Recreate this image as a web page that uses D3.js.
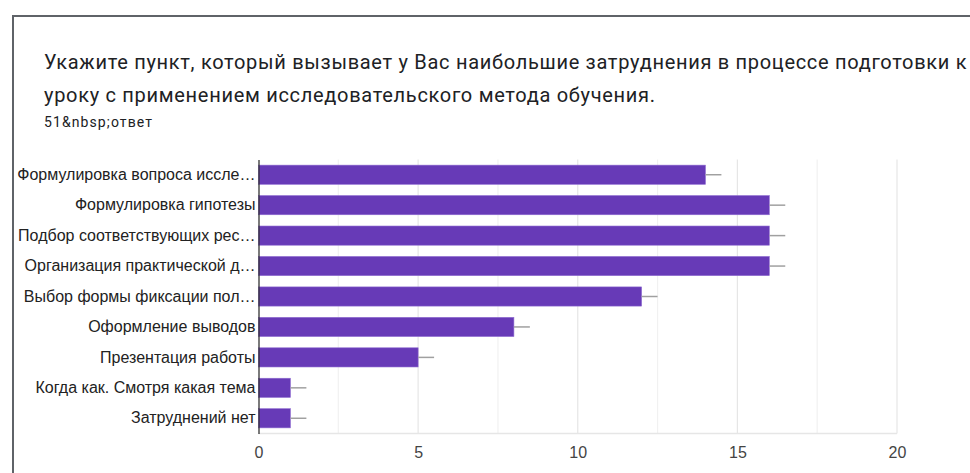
<!DOCTYPE html>
<html>
<head>
<meta charset="utf-8">
<script src="https://cdn.jsdelivr.net/npm/d3@7"></script>
<style>
  body { margin: 0; background: #fff; }
  svg { display: block; }
</style>
</head>
<body>
<svg width="970" height="473"></svg>
<script>
// chart data
var categories = [
	"Формулировка вопроса исследования",
	"Формулировка гипотезы",
	"Подбор соответствующих ресурсов",
	"Организация практической деятельности",
	"Выбор формы фиксации полученных результатов",
	"Оформление выводов",
	"Презентация работы",
	"Когда как. Смотря какая тема",
	"Затруднений нет"
];
var values = [14, 16, 16, 16, 12, 8, 5, 1, 1];
var errors = [0.5, 0.5, 0.5, 0.5, 0.5, 0.5, 0.5, 0.5, 0.5];
var xTicks = [0, 5, 10, 15, 20];
var titleLines = [
	"Укажите пункт, который вызывает у Вас наибольшие затруднения в процессе подготовки к",
	"уроку с применением исследовательского метода обучения."
];
var subtitle = "51&nbsp;ответ";

var svg = d3.select("svg");

// card frame (cut off at right and bottom)
svg.append("path")
	.attr("d", "M13,480 L13,16 L980,16")
	.attr("fill", "none")
	.attr("stroke", "#5f6368")
	.attr("stroke-width", 2);

svg.selectAll(".title").data(titleLines).enter().append("text")
	.attr("class", "title")
	.attr("x", 44)
	.attr("y", function(d, i) { return 69 + i * 32.5; })
	.attr("font-family", "Roboto, sans-serif")
	.attr("font-size", 20)
	.attr("letter-spacing", 0.7)
	.attr("fill", "#202124")
	.text(function(d) { return d; });

svg.append("text")
	.attr("x", 44)
	.attr("y", 127)
	.attr("font-family", "Roboto, sans-serif")
	.attr("font-size", 14)
	.attr("letter-spacing", 1.1)
	.attr("fill", "#202124")
	.text(subtitle);

var margin = {top: 159.5, left: 258.5},
	width = 897 - 258.5,
	height = 433.5 - 159.5,
	g = svg.append("g").attr("transform", "translate(" + margin.left + "," + margin.top + ")");

var x = d3.scaleLinear().domain([0, 20]).range([0, width]);
var y = d3.scaleBand().domain(categories).range([0, height]).paddingInner(0.37).paddingOuter(0.185);

// gridlines every 2.5
var grid = d3.range(2.5, 20.01, 2.5);
g.selectAll(".grid").data(grid).enter().append("line")
	.attr("x1", function(d) { return x(d); })
	.attr("x2", function(d) { return x(d); })
	.attr("y1", 0).attr("y2", height)
	.attr("stroke", function(d) { return d % 5 === 0 ? "#e6e6e6" : "#f1f1f1"; })
	.attr("stroke-width", 1.2);

g.append("line")
	.attr("x1", 0).attr("x2", width)
	.attr("y1", height).attr("y2", height)
	.attr("stroke", "#e6e6e6").attr("stroke-width", 1.5);

g.selectAll(".bar").data(values).enter().append("rect")
	.attr("class", "bar")
	.attr("x", 0)
	.attr("y", function(d, i) { return y(categories[i]); })
	.attr("width", function(d) { return x(d); })
	.attr("height", y.bandwidth())
	.attr("fill", "#673ab7")
	.attr("stroke", "#8e6bd0")
	.attr("stroke-width", 0.6);

g.selectAll(".err").data(values).enter().append("line")
	.attr("class", "err")
	.attr("x1", function(d) { return x(d); })
	.attr("x2", function(d, i) { return x(d + errors[i]); })
	.attr("y1", function(d, i) { return y(categories[i]) + y.bandwidth() / 2; })
	.attr("y2", function(d, i) { return y(categories[i]) + y.bandwidth() / 2; })
	.attr("stroke", "#a0a0a0")
	.attr("stroke-width", 1.5);

// y axis with truncated labels
function truncate(textEl, maxW) {
	var full = textEl.text();
	if (textEl.node().getComputedTextLength() <= maxW) return;
	var s = full;
	while (s.length > 0) {
		s = s.slice(0, -1);
		textEl.text(s.replace(/\s+$/, "") + "…");
		if (textEl.node().getComputedTextLength() <= maxW) break;
	}
}

var yAxis = g.append("g").call(d3.axisLeft(y).tickSize(0).tickPadding(3));
yAxis.select(".domain").attr("stroke", "#333").attr("stroke-width", 1.3);
yAxis.selectAll("text")
	.attr("font-family", "'Liberation Sans', Arial, sans-serif")
	.attr("font-size", 16)
	.attr("fill", "#222")
	.each(function() { truncate(d3.select(this), 239); });

var xAxis = g.append("g").attr("transform", "translate(0," + height + ")")
	.call(d3.axisBottom(x).tickValues(xTicks).tickSize(0).tickPadding(13));
xAxis.select(".domain").remove();
xAxis.selectAll("text")
	.attr("font-family", "'Liberation Sans', Arial, sans-serif")
	.attr("font-size", 16)
	.attr("fill", "#444");
</script>
</body>
</html>
